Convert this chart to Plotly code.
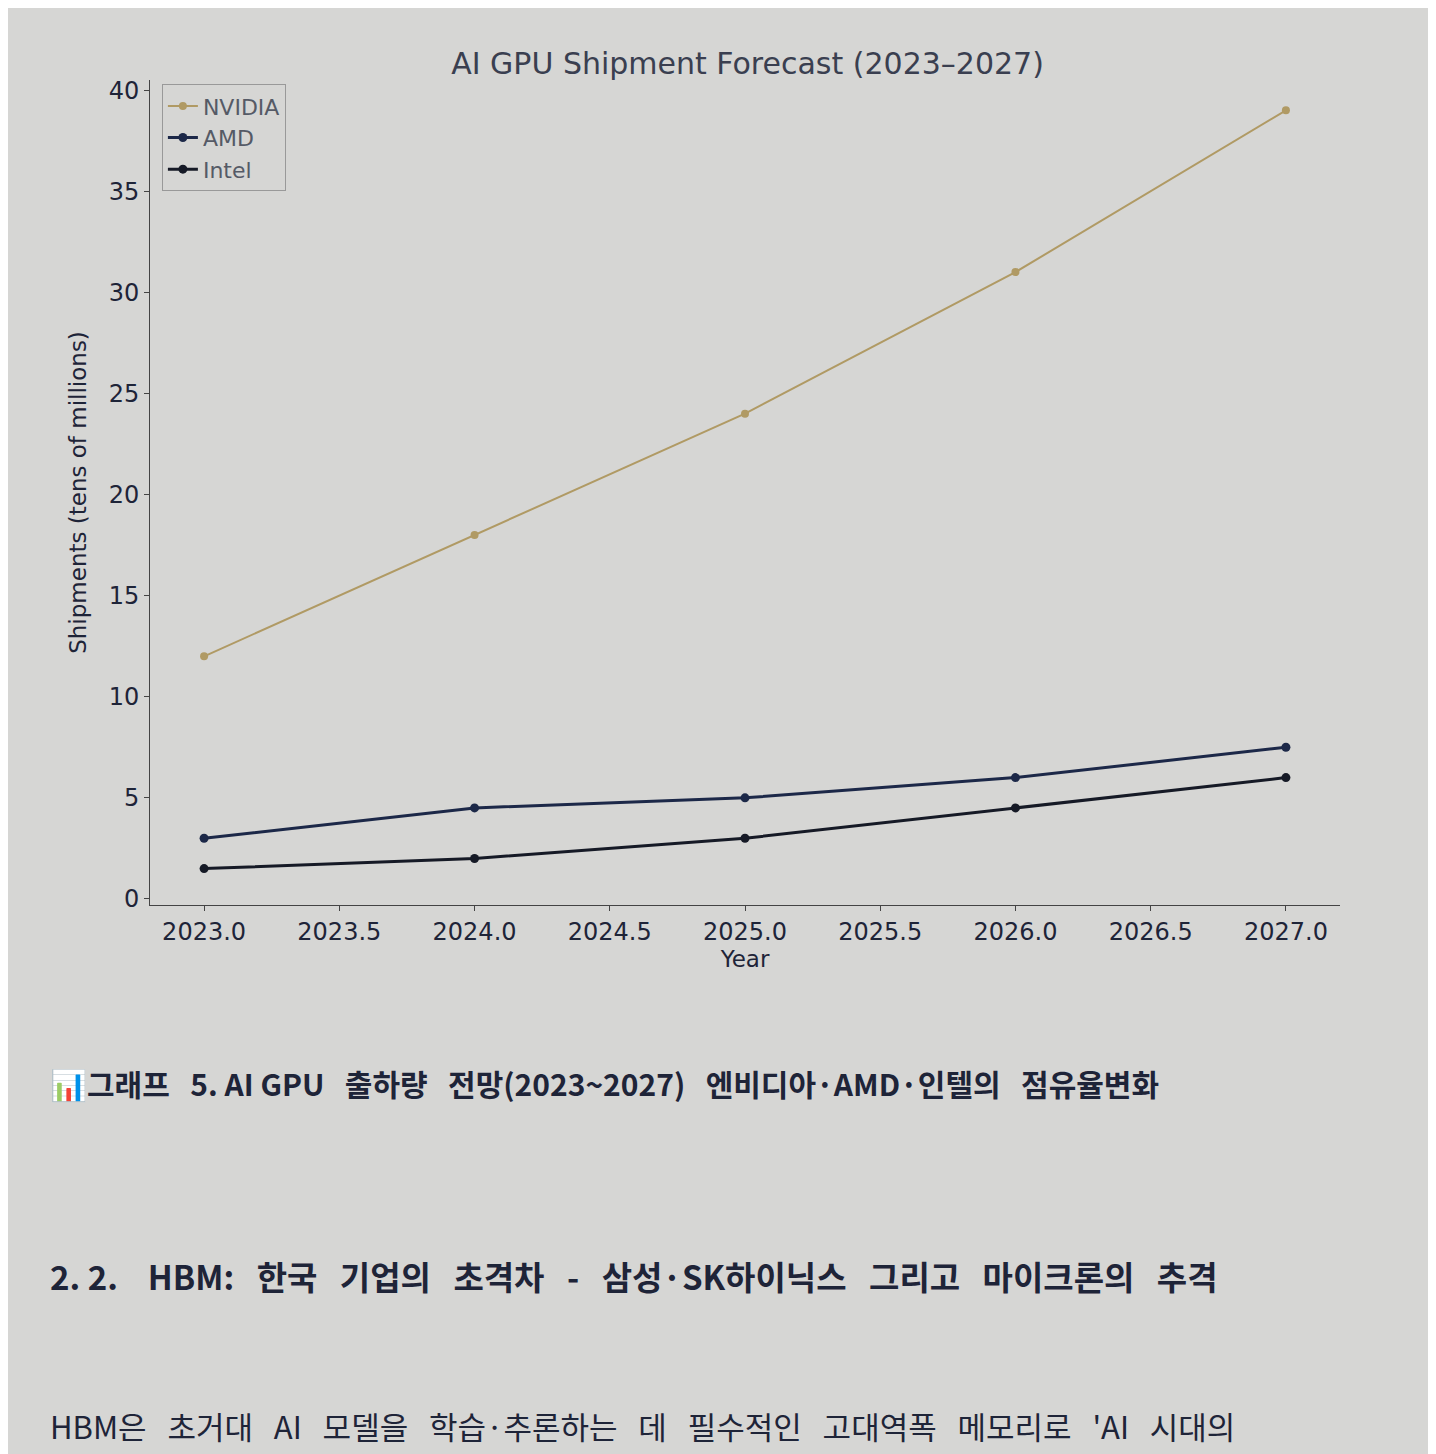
import plotly.graph_objects as go

years = [2023, 2024, 2025, 2026, 2027]
nvidia = [12, 18, 24, 31, 39]
amd = [3, 4.5, 5, 6, 7.5]
intel = [1.5, 2, 3, 4.5, 6]

font = "DejaVu Sans"
ink = "#1e2438"

fig = go.Figure()
fig.add_trace(go.Scatter(x=years, y=nvidia, name="NVIDIA", mode="lines+markers",
                         line=dict(color="#b09a64", width=2), marker=dict(size=8)))
fig.add_trace(go.Scatter(x=years, y=amd, name="AMD", mode="lines+markers",
                         line=dict(color="#1c2848", width=3), marker=dict(size=9)))
fig.add_trace(go.Scatter(x=years, y=intel, name="Intel", mode="lines+markers",
                         line=dict(color="#161a26", width=3), marker=dict(size=9)))

# text from the page below the chart
page_text = [
    ("📊그래프   5. AI GPU   출하량   전망(2023~2027)   엔비디아·AMD·인텔의   점유율변화", 40, 1075, 30, True),
    ("2. 2.    HBM:   한국   기업의   초격차   -   삼성·SK하이닉스   그리고   마이크론의   추격", 40, 1268, 33, True),
    ("HBM은   초거대   AI   모델을   학습·추론하는   데   필수적인   고대역폭   메모리로   'AI   시대의", 40, 1418, 31, False),
]
for txt, px, py, size, bold in page_text:
    fig.add_annotation(text=f"<b>{txt}</b>" if bold else txt, xref="paper", yref="paper",
                       x=(px - 142) / 1190, y=(897 - py) / 825, xanchor="left", yanchor="middle",
                       showarrow=False, font=dict(family="Noto Sans CJK KR", size=size, color=ink))

fig.update_layout(
    width=1436, height=1454,
    margin=dict(l=142, r=104, t=72, b=557),
    paper_bgcolor="#d6d6d4", plot_bgcolor="#d6d6d4",
    font=dict(family=font, color=ink, size=24),
    title=dict(text="AI GPU Shipment Forecast (2023–2027)", x=0.515, y=0.969,
               xanchor="center", font=dict(size=30, color="#3a3f50")),
    legend=dict(x=0.01, y=0.995, bgcolor="rgba(0,0,0,0)", bordercolor="#999999",
                borderwidth=1, font=dict(size=22, color="#555a66")),
    xaxis=dict(title=dict(text="Year", standoff=2, font=dict(size=23)),
               range=[2022.8, 2027.2], dtick=0.5, tickformat=".1f",
               showgrid=False, showline=True, linecolor="#444", ticks="outside",
               zeroline=False, mirror=False),
    yaxis=dict(title=dict(text="Shipments (tens of millions)", font=dict(size=23)),
               range=[-0.3, 40.5], dtick=5, showgrid=False, showline=True,
               linecolor="#444", ticks="outside", zeroline=False),
)

fig.write_html("out.html")
